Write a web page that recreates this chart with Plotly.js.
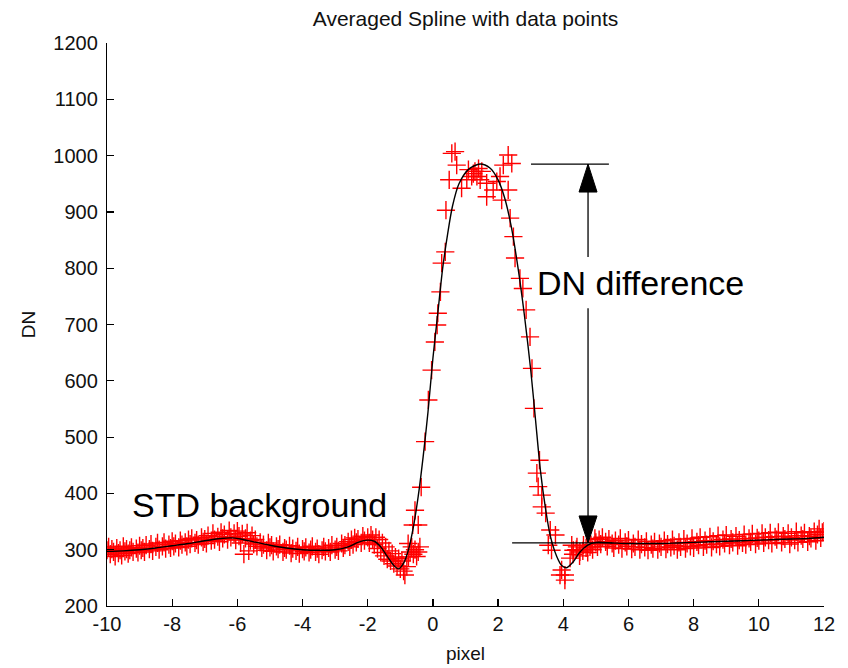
<!DOCTYPE html>
<html>
<head>
<meta charset="utf-8">
<script src="https://cdn.plot.ly/plotly-3.0.1.min.js"></script>
<style>
html,body{margin:0;padding:0;background:#fff;}
#chart{width:848px;height:668px;}
</style>
</head>
<body>
<div id="chart"></div>
<script>
// ---- Averaged spline (black curve) ----
const splineX = [-10,-9.5,-9,-8.5,-8,-7.5,-7,-6.5,-6.2,-5.9,-5.5,-5,-4.5,-4,-3.5,-3,-2.6,-2.3,-2.0,-1.8,-1.6,-1.4,-1.2,-1.05,-0.9,-0.75,-0.6,-0.45,-0.3,-0.15,0.0,0.15,0.3,0.45,0.6,0.8,1.1,1.45,1.75,2.0,2.2,2.4,2.6,2.8,3.0,3.15,3.3,3.45,3.6,3.8,3.95,4.1,4.3,4.5,4.75,5.0,5.5,6,6.5,7,7.5,8,8.5,9,9.5,10,10.5,11,11.5,12];
const splineY = [297,298,300,303,307,311,316,320,321,319,314,308,303,300,299,300,305,313,317,315,305,288,272,266,276,300,340,395,465,545,640,720,800,860,910,950,976,985,978,957,925,875,805,720,620,530,440,375,325,288,272,268,278,295,308,313,312,311,311,311,312,313,314,315,316,317,318,319,320,322];

// ---- Data points (red +) ----
const pointsX = [
-10.0,-9.95,-9.9,-9.85,-9.8,-9.75,-9.7,-9.65,-9.6,-9.55,-9.5,-9.45,-9.4,-9.35,-9.3,-9.25,-9.2,-9.1,-9.05,-9.0,
-8.95,-8.9,-8.85,-8.8,-8.7,-8.65,-8.6,-8.5,-8.45,-8.4,-8.3,-8.25,-8.2,-8.1,-8.05,-8.0,-7.95,-7.9,-7.8,-7.75,
-7.7,-7.6,-7.55,-7.5,-7.45,-7.4,-7.3,-7.25,-7.2,-7.1,-7.05,-7.0,-6.95,-6.9,-6.8,-6.75,-6.7,-6.6,-6.55,-6.5,
-6.45,-6.4,-6.3,-6.25,-6.2,-6.1,-6.05,-6.0,-5.95,-5.9,-5.85,-5.8,-5.75,-5.7,-5.65,-5.6,-5.55,-5.5,-5.45,-5.4,
-5.3,-5.25,-5.2,-5.1,-5.05,-5.0,-4.95,-4.9,-4.8,-4.75,-4.7,-4.6,-4.55,-4.5,-4.4,-4.35,-4.3,-4.2,-4.15,-4.1,
-4.0,-3.95,-3.9,-3.8,-3.75,-3.7,-3.6,-3.55,-3.5,-3.4,-3.35,-3.3,-3.2,-3.15,-3.1,-3.0,-2.95,-2.9,-2.8,-2.75,
-2.7,-2.6,-2.55,-2.5,-2.45,-2.4,-2.35,-2.3,-2.2,-2.15,-2.1,-2.0,-1.95,-1.9,-1.85,-1.8,-1.75,-1.7,-1.65,-1.6,
-1.55,-1.5,-1.45,-1.4,-1.35,-1.3,-1.25,-1.2,-1.15,-1.1,-1.05,-1.0,-0.95,-0.9,-0.86,-0.8,-0.75,-0.7,-0.65,-0.6,
-0.55,-0.5,-0.45,-0.4,
-0.76,-0.62,-0.55,-0.45,-0.36,-0.24,-0.14,-0.04,0.06,0.13,0.15,0.23,0.27,0.38,0.40,0.50,0.58,0.68,0.73,0.88,
1.04,1.09,1.19,1.24,1.29,1.35,1.40,1.45,1.50,1.65,1.65,1.85,1.96,2.06,2.11,2.16,2.31,2.31,2.42,2.37,
2.47,2.52,2.67,2.76,2.86,2.98,3.04,3.10,3.19,3.27,3.23,3.34,3.34,3.46,3.54,3.60,3.64,3.76,3.90,3.95,
4.05,4.05,4.21,4.26,4.31,4.42,4.51,4.62,4.82,4.97,4.3,4.4,4.5,4.6,4.7,4.75,4.85,4.9,
5.0,5.05,5.1,5.15,5.2,5.3,5.35,5.4,5.5,5.55,5.6,5.7,5.75,5.8,5.9,5.95,6.0,6.1,6.15,6.2,
6.3,6.35,6.4,6.5,6.55,6.6,6.7,6.75,6.8,6.9,6.95,7.0,7.1,7.15,7.2,7.3,7.35,7.4,7.5,7.55,
7.6,7.7,7.75,7.8,7.9,7.95,8.0,8.1,8.15,8.2,8.3,8.35,8.4,8.5,8.55,8.6,8.7,8.75,8.8,8.9,
8.95,9.0,9.1,9.15,9.2,9.3,9.35,9.4,9.5,9.55,9.6,9.7,9.75,9.8,9.9,9.95,10.0,10.1,10.15,10.2,
10.3,10.35,10.4,10.5,10.55,10.6,10.7,10.75,10.8,10.9,10.95,11.0,11.1,11.15,11.2,11.3,11.35,11.4,11.5,11.55,
11.6,11.7,11.75,11.8,11.85,11.9,11.95,12.0
];
const pointsY = [
299,305,292,301,296,288,303,294,299,290,306,297,301,293,299,304,296,302,295,307,
299,303,296,308,301,310,298,305,312,300,306,313,302,309,303,315,306,311,304,316,
309,313,306,318,310,320,312,317,309,322,314,319,311,325,316,329,318,323,314,331,
320,327,318,334,322,329,317,333,324,312,328,292,320,330,298,316,325,310,318,306,
313,303,309,299,312,304,308,297,306,301,309,296,303,300,307,294,302,298,305,293,
301,297,304,295,300,306,296,302,292,299,305,297,303,296,308,300,305,298,311,303,
308,314,305,318,309,321,313,319,312,324,316,322,312,326,318,309,322,302,318,295,
312,289,305,283,298,280,293,275,287,271,284,266,280,262,255,270,287,296,305,292,
300,288,296,305,
311,344,370,344,411,492,566,619,669,699,720,758,809,829,903,957,1004,1007,983,942,
957,975,963,968,972,963,977,957,972,951,927,939,954,963,921,983,1001,939,986,889,
856,818,782,764,726,678,622,551,436,459,412,397,376,365,308,335,299,326,255,264,
255,246,285,308,299,305,296,308,305,320,292,300,289,298,303,295,309,300,
313,305,318,310,322,314,306,319,311,303,316,309,320,302,313,306,317,301,311,305,
318,300,310,304,315,299,309,302,314,300,311,305,316,301,310,304,318,307,300,313,
305,319,302,311,306,320,303,314,308,322,305,316,309,323,304,315,310,325,306,318,
311,326,308,319,313,324,307,317,312,327,309,320,314,328,310,321,316,329,312,322,
317,330,311,323,318,331,313,324,319,329,310,322,317,332,313,325,319,330,314,324,
320,332,316,327,337,321,331,333
];

// ---- Annotation values ----
const peakLevel = 985;
const baseLevel = 312;
const arrowX = 4.76;
const peakLineX = [3.01, 5.40];
const baseLineX = [2.43, 5.5];
const labelDN = {text: 'DN difference', x: 6.37, y: 774};
const labelSTD = {text: 'STD background', x: -5.31, y: 379};
const gapTop = 820, gapBottom = 729;

const xTicks = [-10,-8,-6,-4,-2,0,2,4,6,8,10,12];
const yTicks = [200,300,400,500,600,700,800,900,1000,1100,1200];

const FONT = 'Liberation Sans, Arial, Helvetica, sans-serif';

const traces = [
  {
    x: pointsX, y: pointsY, type: 'scatter', mode: 'markers',
    marker: {symbol: 'cross-thin-open', size: 13, color: '#ff0000', line: {color: '#ff0000', width: 1.4}},
    hoverinfo: 'skip', showlegend: false
  },
  {
    x: splineX, y: splineY, type: 'scatter', mode: 'lines',
    line: {color: '#000000', width: 1.4, shape: 'spline', smoothing: 0.8},
    hoverinfo: 'skip', showlegend: false
  }
];

const shapes = [
  {type: 'line', xref: 'x', yref: 'y', x0: peakLineX[0], x1: peakLineX[1], y0: peakLevel, y1: peakLevel, line: {color: '#000', width: 1.3}},
  {type: 'line', xref: 'x', yref: 'y', x0: baseLineX[0], x1: baseLineX[1], y0: baseLevel, y1: baseLevel, line: {color: '#000', width: 1.3}},
  {type: 'line', xref: 'x', yref: 'y', x0: arrowX, x1: arrowX, y0: peakLevel, y1: gapTop, line: {color: '#000', width: 1.3}},
  {type: 'line', xref: 'x', yref: 'y', x0: arrowX, x1: arrowX, y0: gapBottom, y1: baseLevel, line: {color: '#000', width: 1.3}},
  {type: 'path', xref: 'x', yref: 'y', xsizemode: 'pixel', ysizemode: 'pixel', xanchor: arrowX, yanchor: peakLevel,
   path: 'M0,0 L-9,-28 L9,-28 Z', fillcolor: '#000', line: {color: '#000', width: 1}},
  {type: 'path', xref: 'x', yref: 'y', xsizemode: 'pixel', ysizemode: 'pixel', xanchor: arrowX, yanchor: baseLevel,
   path: 'M0,0 L-9,27 L9,27 Z', fillcolor: '#000', line: {color: '#000', width: 1}}
];

const annotations = [labelDN, labelSTD].map(l => ({
  text: l.text, x: l.x, y: l.y, xref: 'x', yref: 'y', showarrow: false,
  xanchor: 'center', yanchor: 'middle',
  font: {family: FONT, size: 34, color: '#000'}
}));

const axisCommon = {
  showline: true, linecolor: '#000', linewidth: 1.2,
  ticks: 'inside', ticklen: 7, tickwidth: 1.2, tickcolor: '#000',
  showgrid: false, zeroline: false, mirror: false,
  tickfont: {family: FONT, size: 20, color: '#111'}
};

const layout = {
  width: 848, height: 668,
  margin: {l: 107, r: 24, t: 43, b: 62},
  paper_bgcolor: '#fff', plot_bgcolor: '#fff',
  title: {text: 'Averaged Spline with data points', x: 0.5, xref: 'paper', xanchor: 'center',
          y: 0.972, yref: 'container', yanchor: 'middle',
          font: {family: FONT, size: 21, color: '#111'}},
  xaxis: Object.assign({}, axisCommon, {
    range: [-10, 12], tickvals: xTicks, ticktext: xTicks.map(String),
    title: {text: 'pixel', font: {family: FONT, size: 19, color: '#111'}, standoff: 12}
  }),
  yaxis: Object.assign({}, axisCommon, {
    range: [200, 1200], tickvals: yTicks, ticktext: yTicks.map(String),
    ticklabelstandoff: 4,
    title: {text: 'DN', font: {family: FONT, size: 19, color: '#111'}, standoff: 12}
  }),
  shapes: shapes,
  annotations: annotations,
  showlegend: false
};

Plotly.newPlot('chart', traces, layout, {staticPlot: true, displayModeBar: false});
</script>
</body>
</html>
